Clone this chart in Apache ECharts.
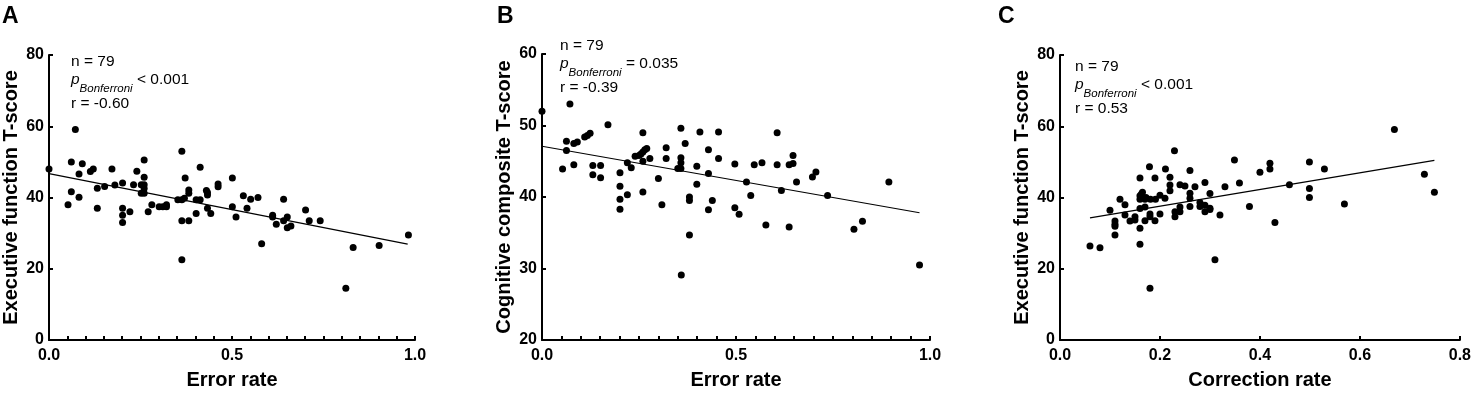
<!DOCTYPE html>
<html><head><meta charset="utf-8">
<script src="https://cdn.jsdelivr.net/npm/echarts@6/dist/echarts.min.js"></script>
<style>html,body{margin:0;padding:0;background:#fff}#c{width:1474px;height:395px}</style>
</head><body><div id="c"></div>
<script>
// ---------- DATA ----------
const pointsA = [
 [0.00,48.0],[0.052,38.0],[0.061,50.0],[0.061,41.6],[0.072,59.1],[0.082,46.6],[0.082,40.1],[0.091,49.5],
 [0.113,47.3],[0.121,48.0],[0.132,42.6],[0.132,37.0],[0.152,43.1],[0.172,48.0],[0.18,43.5],[0.201,44.1],
 [0.201,37.0],[0.201,35.0],[0.201,33.0],[0.221,36.0],[0.231,43.6],[0.240,47.4],[0.252,43.6],[0.260,43.6],
 [0.260,50.5],[0.260,45.7],[0.252,41.2],[0.260,41.2],[0.26,42.5],[0.271,36.0],[0.281,38.0],[0.301,37.4],
 [0.311,37.4],[0.321,38.0],[0.321,37.4],[0.352,39.4],[0.363,39.4],[0.363,53.0],[0.372,45.5],[0.37,39.8],
 [0.363,33.5],[0.363,22.5],[0.382,42.1],[0.382,41.2],[0.382,33.5],[0.402,35.5],[0.402,39.4],[0.413,39.4],
 [0.413,48.5],[0.433,41.4],[0.433,40.7],[0.43,42.0],[0.433,37.0],[0.442,35.5],[0.462,43.8],[0.462,43.0],
 [0.501,45.5],[0.501,37.4],[0.511,34.5],[0.531,40.5],[0.541,37.0],[0.551,39.5],[0.571,40.0],[0.581,27.0],
 [0.611,35.0],[0.611,34.5],[0.621,32.5],[0.641,39.5],[0.641,33.5],[0.651,34.5],[0.651,31.5],[0.661,32.0],
 [0.701,36.5],[0.711,33.5],[0.741,33.5],[0.811,14.5],[0.831,26.0],[0.902,26.5],[0.982,29.5]
];
const fitA = [[0, 46.7], [0.98, 26.9]];

const pointsB = [
 [0,52.0],[0.072,53.0],[0.063,47.8],[0.063,46.5],[0.082,47.5],[0.091,47.7],[0.11,48.4],[0.117,48.6],
 [0.124,48.9],[0.17,50.1],[0.053,43.9],[0.082,44.5],[0.131,44.4],[0.151,44.4],[0.131,43.1],[0.151,42.7],
 [0.201,43.4],[0.201,41.5],[0.201,39.7],[0.201,38.3],[0.22,44.8],[0.23,44.1],[0.22,40.3],[0.26,49.0],
 [0.24,45.7],[0.25,45.8],[0.255,46.0],[0.26,46.3],[0.265,46.6],[0.27,46.8],[0.26,45.0],[0.278,45.4],
 [0.26,40.7],[0.30,42.6],[0.32,46.9],[0.32,45.4],[0.358,49.6],[0.369,47.5],[0.358,45.5],[0.358,44.8],
 [0.358,44.0],[0.35,44.0],[0.399,44.3],[0.399,41.8],[0.407,49.1],[0.429,46.6],[0.429,43.3],[0.455,49.1],
 [0.455,45.4],[0.606,49.0],[0.497,44.6],[0.547,44.5],[0.567,44.8],[0.606,44.5],[0.637,44.5],[0.647,44.7],
 [0.647,45.8],[0.527,42.1],[0.656,42.1],[0.697,42.8],[0.706,43.5],[0.894,42.1],[0.538,40.2],[0.617,40.9],
 [0.736,40.2],[0.309,38.9],[0.38,40.0],[0.38,39.5],[0.38,34.7],[0.359,29.1],[0.429,38.2],[0.439,39.5],
 [0.497,38.5],[0.508,37.6],[0.577,36.1],[0.637,35.8],[0.804,35.5],[0.826,36.6],[0.973,30.5]
];
const fitB = [[0, 47.1], [0.973, 37.8]];

const pointsC = [
 [0.229,53.1],[0.179,48.6],[0.211,48.0],[0.26,47.6],[0.16,45.5],[0.19,45.5],[0.22,45.7],[0.22,43.5],
 [0.22,41.9],[0.24,43.6],[0.25,43.2],[0.26,41.2],[0.29,44.2],[0.30,41.1],[0.33,43.0],[0.12,39.5],
 [0.16,40.5],[0.163,41.0],[0.165,41.5],[0.172,40.0],[0.181,39.5],[0.191,39.5],[0.21,39.8],[0.06,26.4],
 [0.08,25.9],[0.10,36.4],[0.11,33.4],[0.11,32.5],[0.11,31.9],[0.11,29.5],[0.13,35.1],[0.14,33.4],
 [0.15,33.7],[0.15,34.6],[0.16,36.9],[0.16,31.4],[0.16,26.9],[0.17,37.3],[0.17,33.5],[0.16,39.5],
 [0.17,39.5],[0.18,35.4],[0.18,34.6],[0.19,33.5],[0.20,35.4],[0.18,14.5],[0.23,36.0],[0.23,34.6],
 [0.24,37.3],[0.24,36.0],[0.26,39.8],[0.26,37.5],[0.28,37.5],[0.29,37.8],[0.30,37.0],[0.29,36.0],
 [0.30,36.6],[0.32,35.1],[0.31,22.5],[0.669,59.1],[0.349,50.5],[0.42,49.6],[0.42,48.0],[0.499,50.0],
 [0.529,48.0],[0.40,47.1],[0.359,44.1],[0.459,43.6],[0.499,42.5],[0.499,40.0],[0.729,46.5],[0.749,41.5],
 [0.569,38.2],[0.379,37.5],[0.43,33.0],[0.27,43.0],[0.2,40.6],[0.13,38.0],[0.28,38.6]
];
const fitC = [[0.06, 34.3], [0.749, 50.4]];

const yNames = ['Executive function T-score', 'Cognitive composite T-score', 'Executive function T-score'];
const xNames = ['Error rate', 'Error rate', 'Correction rate'];
const panelLetters = ['A', 'B', 'C'];
const statN = ['n = 79', 'n = 79', 'n = 79'];
const statP = ['< 0.001', '= 0.035', '< 0.001'];
const statR = ['r = -0.60', 'r = -0.39', 'r = 0.53'];

// ---------- CHART ----------
const FONT = '"Liberation Sans", Arial, sans-serif';
const chart = echarts.init(document.getElementById('c'));

const grids = [
  {left: 49, top: 55, width: 366, height: 292},
  {left: 542, top: 54, width: 388, height: 292},
  {left: 1060, top: 55, width: 400, height: 292}
];
const xCfg = [
  {min: 0, max: 1.0, interval: 0.05, labelEvery: 0.5},
  {min: 0, max: 1.0, interval: 0.05, labelEvery: 0.5},
  {min: 0, max: 0.8, interval: 0.2, labelEvery: 0.2}
];
const yCfg = [
  {min: 0, max: 80, interval: 20},
  {min: 20, max: 60, interval: 10},
  {min: 0, max: 80, interval: 20}
];

const axisLine = {show: true, lineStyle: {color: '#000', width: 2}};
const axisTick = {show: true, inside: true, length: 4, lineStyle: {color: '#000', width: 2}};

const xAxis = xCfg.map((c, i) => ({
  type: 'value', gridIndex: i, min: c.min, max: c.max, interval: c.interval,
  name: xNames[i], nameLocation: 'middle', nameGap: 30,
  nameTextStyle: {fontFamily: FONT, fontWeight: 'bold', fontSize: 20, color: '#000'},
  axisLine, axisTick, splitLine: {show: false},
  axisLabel: {
    fontFamily: FONT, fontWeight: 'bold', fontSize: 16, color: '#000', margin: 8,
    showMaxLabel: true, showMinLabel: true,
    formatter: v => {
      const k = v / c.labelEvery;
      return Math.abs(k - Math.round(k)) < 1e-6 ? v.toFixed(1) : '';
    }
  }
}));

const yAxis = yCfg.map((c, i) => ({
  type: 'value', gridIndex: i, min: c.min, max: c.max, interval: c.interval,
  name: yNames[i], nameLocation: 'middle', nameGap: 28,
  nameTextStyle: {fontFamily: FONT, fontWeight: 'bold', fontSize: 20, color: '#000'},
  axisLine, axisTick, splitLine: {show: false},
  axisLabel: {fontFamily: FONT, fontWeight: 'bold', fontSize: 16, color: '#000', margin: 5}
}));

const pts = [pointsA, pointsB, pointsC];
const fits = [fitA, fitB, fitC];
const series = [];
pts.forEach((p, i) => {
  series.push({type: 'scatter', xAxisIndex: i, yAxisIndex: i, data: p, symbolSize: 7,
    itemStyle: {color: '#000', opacity: 1}, silent: true, z: 3});
  series.push({type: 'line', xAxisIndex: i, yAxisIndex: i, data: fits[i], symbol: 'none',
    lineStyle: {color: '#000', width: 1.2}, silent: true, z: 2});
});

const annoPos = [
  {x: 71, y: 54},
  {x: 560, y: 38},
  {x: 1075, y: 59}
];
const letterPos = [2, 497, 998];
const graphic = [];
annoPos.forEach((a, i) => {
  graphic.push({type: 'text', left: letterPos[i], top: 5,
    style: {text: panelLetters[i], font: 'bold 23px ' + FONT, fill: '#000'}});
  graphic.push({type: 'text', x: a.x, y: a.y,
    style: {text: statN[i], font: '15.5px ' + FONT, fill: '#000', verticalAlign: 'top'}});
  graphic.push({type: 'text', x: a.x, y: a.y + 18,
    style: {
      text: '{p|p}{s|Bonferroni}{t| ' + statP[i] + '}', fill: '#000', verticalAlign: 'top',
      rich: {
        p: {font: 'italic 15.5px ' + FONT, fill: '#000', lineHeight: 18, verticalAlign: 'top'},
        s: {font: 'italic 11.5px ' + FONT, fill: '#000', lineHeight: 23, verticalAlign: 'bottom'},
        t: {font: '15.5px ' + FONT, fill: '#000', lineHeight: 18, verticalAlign: 'top'}
      }
    }});
  graphic.push({type: 'text', x: a.x, y: a.y + 42,
    style: {text: statR[i], font: '15.5px ' + FONT, fill: '#000', verticalAlign: 'top'}});
});

chart.setOption({
  animation: false,
  backgroundColor: '#fff',
  grid: grids,
  xAxis, yAxis, series, graphic
});
</script>
</body></html>
